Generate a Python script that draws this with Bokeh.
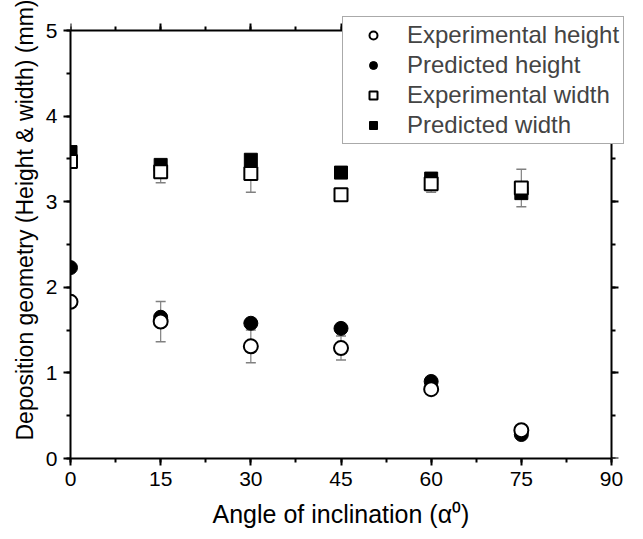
from bokeh.plotting import figure
from bokeh.models import (Range1d, SingleIntervalTicker, LinearAxis, Legend, LegendItem,
                          ColumnDataSource, Whisker, TeeHead, CustomJSTickFormatter, Title)
from bokeh.embed import file_html
from bokeh.resources import INLINE

# ---- data ----
angles = [0, 15, 30, 45, 60, 75]
exp_height = [1.83, 1.60, 1.31, 1.29, 0.81, 0.33]
exp_height_err = [0.0, 0.235, 0.19, 0.14, 0.03, 0.05]
pred_height = [2.23, 1.65, 1.58, 1.52, 0.90, 0.28]
exp_width = [3.47, 3.35, 3.33, 3.08, 3.21, 3.16]
exp_width_err = [0.07, 0.13, 0.22, 0.02, 0.10, 0.22]
pred_width = [3.58, 3.43, 3.49, 3.34, 3.27, 3.10]

x_axis_limits = (0, 90)
y_axis_limits = (0, 5)

x_title = "Angle of inclination (\u03b1\u2070)"
y_title = "Deposition geometry (Height & width) (mm)"
labels = ["Experimental height", "Predicted height", "Experimental width", "Predicted width"]

FONT = "Liberation Sans"

# layout (pixels): axes box 70..611 x 30..458; frame extended so legend can overhang
W, H = 643, 539
B_LEFT, B_RIGHT, B_TOP, B_BOTTOM = 70, 4, 12, 81
AX_W, AX_H = 541, 428
frame_w = W - B_LEFT - B_RIGHT
frame_h = H - B_TOP - B_BOTTOM
x_end = x_axis_limits[1] * frame_w / AX_W
y_end = y_axis_limits[1] * frame_h / AX_H

p = figure(width=W, height=H, output_backend="svg", toolbar_location=None,
           x_range=Range1d(0, x_end), y_range=Range1d(0, y_end),
           min_border_left=B_LEFT, min_border_right=B_RIGHT,
           min_border_top=B_TOP, min_border_bottom=B_BOTTOM)
p.xgrid.visible = False
p.ygrid.visible = False
p.outline_line_color = None
p.background_fill_color = "white"
p.border_fill_color = "white"

def style_axis(ax, labels_on=True):
    ax.axis_line_width = 2
    ax.axis_line_color = "black"
    ax.major_tick_line_width = 2
    ax.minor_tick_line_width = 2
    ax.major_tick_in = 0
    ax.major_tick_out = 7
    ax.minor_tick_in = 0
    ax.minor_tick_out = 4
    ax.major_label_text_font = FONT
    if labels_on:
        ax.major_label_text_font_size = "21px"
        ax.major_label_text_color = "black"
        ax.major_label_standoff = 6
    else:
        ax.formatter = CustomJSTickFormatter(code="return ''")
        ax.major_label_text_font_size = "1px"
        ax.major_label_standoff = 0

p.xaxis.ticker = SingleIntervalTicker(interval=15, num_minor_ticks=2)
p.yaxis.ticker = SingleIntervalTicker(interval=1, num_minor_ticks=2)
p.xaxis.bounds = x_axis_limits
p.yaxis.bounds = y_axis_limits
for ax in p.xaxis + p.yaxis:
    style_axis(ax)

top = LinearAxis(ticker=SingleIntervalTicker(interval=15, num_minor_ticks=2),
                 fixed_location=y_axis_limits[1], bounds=x_axis_limits)
right = LinearAxis(ticker=SingleIntervalTicker(interval=1, num_minor_ticks=2),
                   fixed_location=x_axis_limits[1], bounds=y_axis_limits)
style_axis(top, False)
style_axis(right, False)
p.add_layout(top, "above")
p.add_layout(right, "right")

# axis titles as side-panel titles so they can be placed along the axes box
xt = Title(text=x_title, align="left", offset=142, standoff=19,
           text_font=FONT, text_font_size="25px", text_font_style="normal",
           text_color="black")
yt = Title(text=y_title, align="left", offset=18, standoff=10,
           text_font=FONT, text_font_size="23px", text_font_style="normal",
           text_color="black")
p.add_layout(xt, "below")
p.add_layout(yt, "left")

# error bars
hsrc = ColumnDataSource(dict(x=angles,
                             upper=[v + e for v, e in zip(exp_height, exp_height_err)],
                             lower=[v - e for v, e in zip(exp_height, exp_height_err)]))
wsrc = ColumnDataSource(dict(x=angles,
                             upper=[v + e for v, e in zip(exp_width, exp_width_err)],
                             lower=[v - e for v, e in zip(exp_width, exp_width_err)]))
ecol = "#808080"
for src in (hsrc, wsrc):
    w = Whisker(base="x", upper="upper", lower="lower", source=src,
                line_color=ecol, line_width=1.2,
                upper_head=TeeHead(size=10, line_color=ecol, line_width=1.5),
                lower_head=TeeHead(size=10, line_color=ecol, line_width=1.5))
    p.add_layout(w)

r_ph = p.scatter(angles, pred_height, marker="circle", size=14,
                 fill_color="black", line_color="black")
r_pw = p.scatter(angles, pred_width, marker="square", size=13,
                 fill_color="black", line_color="black")
r_eh = p.scatter(angles, exp_height, marker="circle", size=14,
                 fill_color="white", line_color="black", line_width=2)
r_ew = p.scatter(angles, exp_width, marker="square", size=13,
                 fill_color="white", line_color="black", line_width=2)

legend = Legend(items=[LegendItem(label=labels[0], renderers=[r_eh]),
                       LegendItem(label=labels[1], renderers=[r_ph]),
                       LegendItem(label=labels[2], renderers=[r_ew]),
                       LegendItem(label=labels[3], renderers=[r_pw])],
                location=(272, 458 - 144),
                border_line_color="#555555", border_line_width=1,
                background_fill_color="white", background_fill_alpha=1,
                label_text_font=FONT, label_text_font_size="24px",
                glyph_width=52, glyph_height=20, label_height=20,
                label_standoff=8, spacing=2, padding=4, margin=0)
p.add_layout(legend)

open("out.html", "w").write(file_html(p, INLINE))
